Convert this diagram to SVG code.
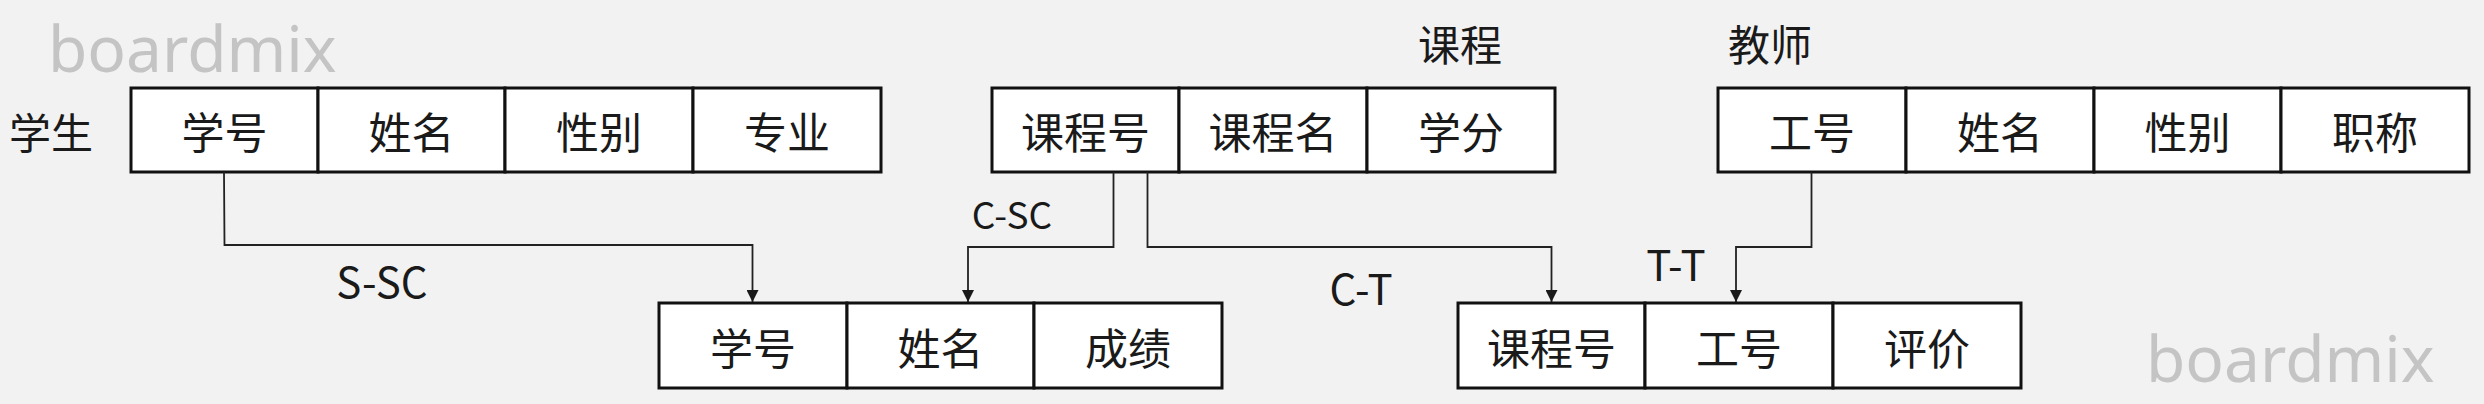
<svg xmlns="http://www.w3.org/2000/svg" width="2484" height="404" viewBox="0 0 2484 404">
<style>
.cell{fill:#ffffff;stroke:#111111;stroke-width:3}
.t{font-family:"Noto Sans CJK SC","Noto Sans",sans-serif;font-size:43px;fill:#1a1a1a;text-anchor:middle;dominant-baseline:central}
.lbl{font-family:"Noto Sans CJK SC","Noto Sans",sans-serif;font-size:42px;fill:#1a1a1a;text-anchor:middle;dominant-baseline:central}
.wm{font-family:"Noto Sans","Open Sans",sans-serif;font-size:64px;fill:#c4c4c4}
.conn{fill:none;stroke:#222222;stroke-width:1.8}
</style>
<defs>
<marker id="arr" markerUnits="userSpaceOnUse" markerWidth="14" markerHeight="12" refX="14" refY="7" orient="auto" viewBox="0 0 14 14">
<path d="M0,0 L14,7 L0,14 Z" fill="#1a1a1a"/>
</marker>
</defs>
<rect width="2484" height="404" fill="#f2f2f2"/>
<text class="wm" x="48" y="72">boardmix</text>
<text class="wm" x="2146" y="382">boardmix</text>

<g id="student">
<text class="lbl" x="51" y="130">学生</text>
<rect class="cell" x="131" y="88" width="187" height="84"/>
<rect class="cell" x="318" y="88" width="187" height="84"/>
<rect class="cell" x="505" y="88" width="188" height="84"/>
<rect class="cell" x="693" y="88" width="188" height="84"/>
<text class="t" x="224.5" y="130">学号</text>
<text class="t" x="411.5" y="130">姓名</text>
<text class="t" x="599" y="130">性别</text>
<text class="t" x="787" y="130">专业</text>
</g>

<g id="course">
<text class="lbl" x="1460" y="42">课程</text>
<rect class="cell" x="992" y="88" width="187" height="84"/>
<rect class="cell" x="1179" y="88" width="188" height="84"/>
<rect class="cell" x="1367" y="88" width="188" height="84"/>
<text class="t" x="1085.5" y="130">课程号</text>
<text class="t" x="1273" y="130">课程名</text>
<text class="t" x="1461" y="130">学分</text>
</g>

<g id="teacher">
<text class="lbl" x="1770" y="42">教师</text>
<rect class="cell" x="1718" y="88" width="188" height="84"/>
<rect class="cell" x="1906" y="88" width="188" height="84"/>
<rect class="cell" x="2094" y="88" width="187" height="84"/>
<rect class="cell" x="2281" y="88" width="188" height="84"/>
<text class="t" x="1812" y="130">工号</text>
<text class="t" x="2000" y="130">姓名</text>
<text class="t" x="2187.5" y="130">性别</text>
<text class="t" x="2375" y="130">职称</text>
</g>

<g id="sc">
<rect class="cell" x="659" y="303" width="188" height="85"/>
<rect class="cell" x="847" y="303" width="187" height="85"/>
<rect class="cell" x="1034" y="303" width="188" height="85"/>
<text class="t" x="753" y="345.5">学号</text>
<text class="t" x="940.5" y="345.5">姓名</text>
<text class="t" x="1128" y="345.5">成绩</text>
</g>

<g id="tc">
<rect class="cell" x="1458" y="303" width="187" height="85"/>
<rect class="cell" x="1645" y="303" width="188" height="85"/>
<rect class="cell" x="1833" y="303" width="188" height="85"/>
<text class="t" x="1551.5" y="345.5">课程号</text>
<text class="t" x="1739" y="345.5">工号</text>
<text class="t" x="1927" y="345.5">评价</text>
</g>

<g id="connectors">
<polyline class="conn" points="224,172 224.5,245 752.5,245 752.5,302" marker-end="url(#arr)"/>
<polyline class="conn" points="1113.5,172 1113.5,247 968,247 968,302" marker-end="url(#arr)"/>
<polyline class="conn" points="1147.5,172 1147.5,247 1551.5,247 1551.5,302" marker-end="url(#arr)"/>
<polyline class="conn" points="1811.5,172 1811.5,247 1736,247 1736,302" marker-end="url(#arr)"/>
<text class="lbl" x="382" y="279">S-SC</text>
<text class="lbl" x="1012" y="213" style="font-size:37px">C-SC</text>
<text class="lbl" x="1361" y="286">C-T</text>
<text class="lbl" x="1676" y="262">T-T</text>
</g>
</svg>
